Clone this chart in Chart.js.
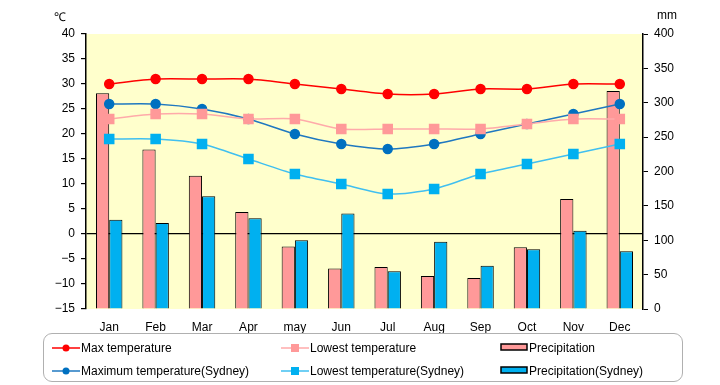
<!DOCTYPE html>
<html>
<head>
<meta charset="utf-8">
<script src="https://cdn.jsdelivr.net/npm/chart.js@4/dist/chart.umd.min.js"></script>
<style>
  body { margin: 0; background: #fff; font-family: "Liberation Sans", Arial, sans-serif; }
  #wrap { position: relative; width: 720px; height: 385px; }
  .unit { position: absolute; top: 8px; font-size: 12px; color: #000; }
  #legend {
    position: absolute; left: 43px; top: 333px; width: 640px; height: 49px;
    border: 1px solid #b0b0b0; border-radius: 9px; box-sizing: border-box;
  }
  .item { position: absolute; height: 16px; font-size: 12px; line-height: 16px; white-space: nowrap; }
  .mark { position: absolute; left: 0; top: 0; width: 28px; height: 16px; }
  .item span.txt { position: absolute; left: 29px; top: 0; }
</style>
</head>
<body>
<div id="wrap">
  <canvas id="myChart" width="720" height="385"></canvas>
  <div class="unit" style="left:54px">℃</div>
  <div class="unit" style="left:657px">mm</div>
  <div id="legend"></div>
</div>
<script>
// data
const months = ['Jan', 'Feb', 'Mar', 'Apr', 'may', 'Jun', 'Jul', 'Aug', 'Sep', 'Oct', 'Nov', 'Dec'];
const maxTemp = [30, 31, 31, 31, 30, 29, 28, 28, 29, 29, 30, 30];
const lowTemp = [23, 24, 24, 23, 23, 21, 21, 21, 21, 22, 23, 23];
const rain = [314, 232, 194, 141, 91, 59, 61, 48, 45, 90, 160, 317];
const maxTempSydney = [26, 26, 25, 23, 20, 18, 17, 18, 20, 22, 24, 26];
const lowTempSydney = [19, 19, 18, 15, 12, 10, 8, 9, 12, 14, 16, 18];
const rainSydney = [130, 125, 164, 132, 100, 139, 55, 98, 63, 87, 114, 84];

const fontSpec = { family: '"Liberation Sans", Arial, sans-serif', size: 12 };

function lineSet(label, values, color, lineColor, style) {
  return {
    type: 'line', label, data: values, yAxisID: 'y', order: 1,
    borderColor: lineColor, backgroundColor: color,
    pointBackgroundColor: color, pointBorderColor: color,
    pointStyle: style, pointRadius: style === 'rect' ? 6.4 : 4.5,
    borderWidth: 1.5, tension: 0.25, fill: false
  };
}
function barSet(label, values, color) {
  return {
    type: 'bar', label, data: values, yAxisID: 'y1', order: 2,
    backgroundColor: color, borderColor: '#000', borderWidth: 1,
    inflateAmount: 0, categoryPercentage: 0.57, barPercentage: 1
  };
}

const data = {
  labels: months,
  datasets: [
    lineSet('Max temperature', maxTemp, '#ff0000', '#ff0000', 'circle'),
    lineSet('Lowest temperature', lowTemp, '#ff9999', '#ffaaaa', 'rect'),
    barSet('Precipitation', rain, '#ff9999'),
    lineSet('Maximum temperature(Sydney)', maxTempSydney, '#0070c0', '#1f78c0', 'circle'),
    lineSet('Lowest temperature(Sydney)', lowTempSydney, '#00b0f0', '#40bff0', 'rect'),
    barSet('Precipitation(Sydney)', rainSydney, '#00b0f0')
  ]
};

const plotBg = {
  id: 'plotBg',
  beforeDraw(chart) {
    const a = chart.chartArea, ctx = chart.ctx;
    ctx.save();
    ctx.fillStyle = '#ffffcc';
    ctx.fillRect(a.left, a.top, a.right - a.left, a.bottom - a.top);
    ctx.restore();
  }
};

const minus = v => String(v).replace('-', '−');

// config
const config = {
  type: 'bar',
  data,
  plugins: [plotBg],
  options: {
    responsive: false,
    animation: false,
    layout: { padding: { top: 34, bottom: 51, left: 0, right: 0 } },
    plugins: { legend: { display: false }, tooltip: { enabled: false } },
    scales: {
      x: {
        grid: { display: false },
        border: { display: false },
        ticks: { color: '#000', font: fontSpec, padding: 3 },
        afterFit(s) { s.height = 25; }
      },
      y: {
        position: 'left', min: -15, max: 40, z: 1,
        ticks: { stepSize: 5, color: '#000', font: fontSpec, padding: 6, callback: minus },
        grid: {
          color: c => c.tick && c.tick.value === 0 ? '#000' : 'rgba(0,0,0,0)',
          tickColor: '#000', tickLength: 5, lineWidth: 1.2
        },
        border: { display: true, color: '#000', width: 1.5 },
        afterFit(s) { s.width = 86; }
      },
      y1: {
        position: 'right', min: 0, max: 400,
        ticks: { stepSize: 50, color: '#000', font: fontSpec, padding: 6 },
        grid: { drawOnChartArea: false, tickColor: '#000', tickLength: 5 },
        border: { display: true, color: '#000', width: 1.5 },
        afterFit(s) { s.width = 77; }
      }
    }
  }
};

// render init block
const myChart = new Chart(document.getElementById('myChart'), config);

// legend in a 3 x 2 grid
const legend = document.getElementById('legend');
const cols = [8, 237, 456];
const rows = [6, 29];
data.datasets.forEach((ds, i) => {
  const item = document.createElement('div');
  item.className = 'item';
  item.style.left = cols[i % 3] + 'px';
  item.style.top = rows[Math.floor(i / 3)] + 'px';
  const c = document.createElement('canvas');
  c.className = 'mark'; c.width = 28; c.height = 16;
  const g = c.getContext('2d');
  if (ds.type === 'bar') {
    g.fillStyle = ds.backgroundColor;
    g.fillRect(1, 4, 26, 6);
    g.strokeStyle = '#000'; g.lineWidth = 1.5;
    g.strokeRect(1, 4, 26, 6);
  } else {
    g.strokeStyle = ds.borderColor; g.lineWidth = 1.5;
    g.beginPath(); g.moveTo(0, 8); g.lineTo(28, 8); g.stroke();
    g.fillStyle = ds.pointBackgroundColor;
    if (ds.pointStyle === 'rect') g.fillRect(10, 4, 8, 8);
    else { g.beginPath(); g.arc(14, 8, 3.5, 0, Math.PI * 2); g.fill(); }
  }
  item.appendChild(c);
  const t = document.createElement('span');
  t.className = 'txt'; t.textContent = ds.label;
  item.appendChild(t);
  legend.appendChild(item);
});
</script>
</body>
</html>
